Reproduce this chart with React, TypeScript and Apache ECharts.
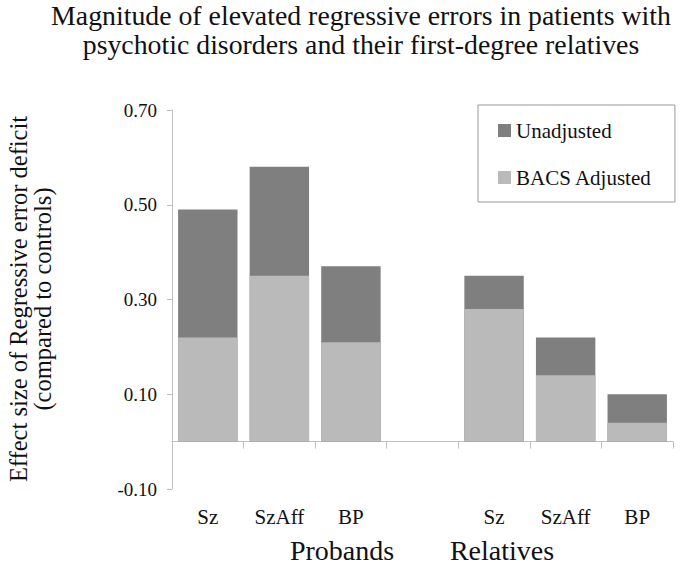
import React, { useEffect, useRef } from "react";
import * as echarts from "echarts";

const categories = ["Sz", "SzAff", "BP", "", "Sz", "SzAff", "BP"];
const unadjusted = [0.49, 0.58, 0.37, null, 0.35, 0.22, 0.1];
const bacsAdjusted = [0.22, 0.35, 0.21, null, 0.28, 0.14, 0.04];
const yTicks = [-0.1, 0.1, 0.3, 0.5, 0.7];
const groupLabels = ["Probands", "Relatives"];
const titleLines = [
  "Magnitude of elevated regressive errors in patients with",
  "psychotic disorders and their first-degree relatives",
];
const yTitleLines = ["Effect size of Regressive error deficit", "(compared to controls)"];

const FONT = "'Liberation Serif', 'Times New Roman', Times, serif";

export default function App() {
  const ref = useRef<HTMLDivElement>(null);
  useEffect(() => {
    if (!ref.current) return;
    const chart = echarts.init(ref.current, null, { renderer: "svg" });
    chart.setOption({
      animation: false,
      backgroundColor: "#ffffff",
      textStyle: { fontFamily: FONT },
      title: {
        text: titleLines.join("\n"),
        left: 356,
        top: -4,
        textAlign: "center",
        textStyle: { fontFamily: FONT, fontSize: 27.8, fontWeight: "normal", color: "#111", lineHeight: 29 },
      },
      legend: {
        orient: "vertical",
        left: 478,
        top: 105,
        padding: [15, 23, 14, 20],
        itemGap: 26,
        itemWidth: 13,
        itemHeight: 13,
        icon: "rect",
        borderColor: "#999",
        borderWidth: 1,
        textStyle: { fontFamily: FONT, fontSize: 21, color: "#111" },
        data: ["Unadjusted", "BACS Adjusted"],
      },
      grid: { left: 172, right: 19, top: 110, bottom: 75, outerBoundsMode: "none", containLabel: false },
      xAxis: {
        type: "category",
        data: categories,
        axisLine: { show: true, onZero: true, lineStyle: { color: "#bfbfbf", width: 1 } },
        axisTick: { show: true, alignWithLabel: false, length: 7, lineStyle: { color: "#bfbfbf" } },
        axisLabel: { margin: 17, fontFamily: FONT, fontSize: 21, color: "#111", interval: 0 },
      },
      yAxis: {
        type: "value",
        min: -0.1,
        max: 0.7,
        splitLine: { show: false },
        axisLine: { show: true, lineStyle: { color: "#bfbfbf", width: 1 } },
        axisTick: { show: true, length: 5, customValues: yTicks, lineStyle: { color: "#bfbfbf" } },
        axisLabel: {
          customValues: yTicks,
          margin: 15,
          fontFamily: FONT,
          fontSize: 19,
          color: "#111",
          formatter: (v: number) => v.toFixed(2),
        },
      },
      graphic: [
        {
          type: "text",
          x: 30,
          y: 299,
          rotation: Math.PI / 2,
          style: {
            text: yTitleLines.join("\n"),
            fontFamily: FONT,
            fontSize: 24.5,
            lineHeight: 24,
            fill: "#111",
            align: "center",
            verticalAlign: "middle",
          },
        },
        {
          type: "text",
          x: 342,
          y: 550,
          style: {
            text: groupLabels[0],
            fontFamily: FONT,
            fontSize: 28,
            fill: "#111",
            align: "center",
            verticalAlign: "middle",
          },
        },
        {
          type: "text",
          x: 502,
          y: 550,
          style: {
            text: groupLabels[1],
            fontFamily: FONT,
            fontSize: 28,
            fill: "#111",
            align: "center",
            verticalAlign: "middle",
          },
        },
      ],
      series: [
        {
          name: "Unadjusted",
          type: "bar",
          data: unadjusted,
          barGap: "-100%",
          barCategoryGap: "17%",
          itemStyle: { color: "#7f7f7f" },
        },
        {
          name: "BACS Adjusted",
          type: "bar",
          data: bacsAdjusted,
          barGap: "-100%",
          barCategoryGap: "17%",
          itemStyle: { color: "#bababa" },
        },
      ],
    });
    return () => chart.dispose();
  }, []);
  return <div ref={ref} style={{ width: 692, height: 564, position: "absolute", left: 0, top: 0 }} />;
}
